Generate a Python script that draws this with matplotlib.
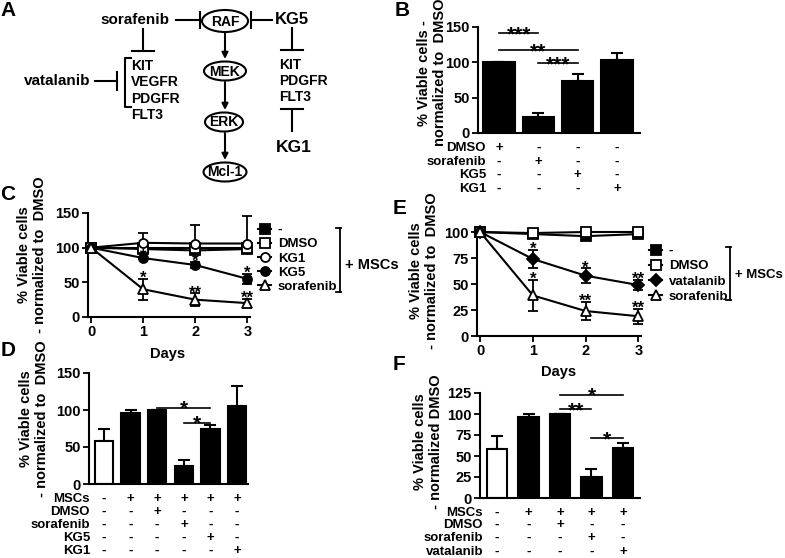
import numpy as np
import matplotlib
matplotlib.use("Agg")
import matplotlib.pyplot as plt
import matplotlib.transforms as mtransforms
from matplotlib.patches import Ellipse

plt.rcParams['font.family'] = ['Liberation Sans', 'DejaVu Sans']
plt.rcParams['font.weight'] = 'bold'
plt.rcParams['axes.labelweight'] = 'bold'
plt.rcParams['font.size'] = 9
plt.rcParams['axes.linewidth'] = 1.5
plt.rcParams['xtick.major.width'] = 1.3
plt.rcParams['ytick.major.width'] = 1.3
plt.rcParams['xtick.major.size'] = 4
plt.rcParams['ytick.major.size'] = 4

W, H = 785, 558

# ---------------- data ----------------
# B: viability without MSCs
b_values = [100, 23, 74, 104]
b_err = [0, 6, 9, 9]
b_rows = ['DMSO', 'sorafenib', 'KG5', 'KG1']
b_signs = [['+', '-', '-', '-'],
           ['-', '+', '-', '-'],
           ['-', '-', '+', '-'],
           ['-', '-', '-', '+']]
b_sig = [(0, 1, 141, '***'), (0, 2, 117, '**'), (1, 2, 99, '***')]

# C: time course with MSCs
days = [0, 1, 2, 3]
c_none = [100, 98, 96, 98]
c_none_err = [0, 1, 2, 1]
c_dmso = [100, 100, 100, 100]
c_kg1 = [100, 107, 106, 106]
c_kg1_err = [0, 14, 27, 40]
c_kg5 = [100, 85, 75, 55]
c_kg5_err = [0, 2, 5, 7]
c_kg5_stars = ['', '*', '*', '*']
c_sor = [100, 40, 25, 20]
c_sor_err = [0, 15, 9, 6]
c_sor_stars = ['', '*', '**', '**']

# D: day 3 bars
d_values = [58, 96, 100, 25, 75, 105]
d_err = [16, 4, 0, 8, 5, 28]
d_rows = ['MSCs', 'DMSO', 'sorafenib', 'KG5', 'KG1']
d_signs = [['-', '+', '+', '+', '+', '+'],
           ['-', '-', '+', '-', '-', '-'],
           ['-', '-', '-', '+', '-', '-'],
           ['-', '-', '-', '-', '+', '-'],
           ['-', '-', '-', '-', '-', '+']]
d_sig = [(2, 4, 103, '*'), (3, 4, 83, '*')]

# E: time course with vatalanib
e_none = [100, 98, 96, 98]
e_none_err = [0, 1, 2, 1]
e_dmso = [100, 99, 100, 100]
e_vat = [100, 74, 58, 49]
e_vat_err = [0, 9, 7, 5]
e_vat_stars = ['', '*', '*', '**']
e_sor = [100, 39, 24, 19]
e_sor_err = [0, 15, 9, 7]
e_sor_stars = ['', '*', '**', '**']

# F: day 3 bars with vatalanib
f_values = [58, 96, 100, 25, 59]
f_err = [16, 4, 0, 9, 7]
f_rows = ['MSCs', 'DMSO', 'sorafenib', 'vatalanib']
f_signs = [['-', '+', '+', '+', '+'],
           ['-', '-', '+', '-', '-'],
           ['-', '-', '-', '+', '-'],
           ['-', '-', '-', '-', '+']]
f_sig = [(2, 4, 123, '*'), (2, 3, 106, '**'), (3, 4, 71, '*')]

fig = plt.figure(figsize=(W / 100, H / 100), dpi=100)


def px_axes(x0, y0, x1, y1):
    return fig.add_axes([x0 / W, 1 - y1 / H, (x1 - x0) / W, (y1 - y0) / H])


def style(ax):
    for s in ['top', 'right']:
        ax.spines[s].set_visible(False)
    ax.tick_params(direction='out', labelsize=10.5, pad=2)


axB = px_axes(478, 27, 640, 133)
axC = px_axes(88, 213, 250, 317)
axD = px_axes(89, 373, 248, 484)
axE = px_axes(477, 232, 641, 336)
axF = px_axes(480, 393, 640, 498)

# overlay in pixel coordinates for the diagram and annotations
ov = fig.add_axes([0, 0, 1, 1])
ov.set_xlim(0, W)
ov.set_ylim(H, 0)
ov.axis('off')


def bar_panel(ax, values, err, width, white_first):
    x = np.arange(len(values))
    colors = ['black'] * len(values)
    if white_first:
        colors[0] = 'white'
    ax.errorbar(x, values, yerr=[np.zeros(len(values)), err], fmt='none',
                ecolor='black', elinewidth=1.5, capsize=4, capthick=1.5, zorder=1)
    ax.bar(x, values, width=width, color=colors, edgecolor='black',
           linewidth=1.5, zorder=2)
    ax.set_xticks([])
    style(ax)


def cond_table(ax, rows, signs, rows_y, label_x):
    tr = mtransforms.blended_transform_factory(ax.transData, ov.transData)
    for r, s, yp in zip(rows, signs, rows_y):
        ov.text(label_x, yp, r, ha='right', va='center', fontsize=9.5)
        for i, sg in enumerate(s):
            ax.text(i, yp, sg, transform=tr, ha='center', va='center',
                    fontsize=9.5, clip_on=False)


def sig(ax, i, j, y, txt):
    ax.plot([i, j], [y, y], color='black', lw=1.2, clip_on=False)
    ax.annotate(txt, ((i + j) / 2, y), xytext=(0, -5), textcoords='offset points',
                ha='center', va='baseline', fontsize=15, annotation_clip=False)


def series(ax, y, lo, up, marker, face, label, stars=None, ms=6.5):
    ax.errorbar(days, y, yerr=[lo, up], fmt='none', ecolor='black',
                elinewidth=1.3, capsize=3.5, capthick=1.3, zorder=2, clip_on=False)
    line, = ax.plot(days, y, color='black', lw=1.5, marker=marker, ms=ms,
                    mfc=face, mec='black', mew=1.3, label=label, zorder=3,
                    clip_on=False)
    if stars:
        for d, v, e, st in zip(days, y, up, stars):
            if st:
                ax.annotate(st, (d, v + e), xytext=(0, -3), textcoords='offset points',
                            ha='center', va='baseline', fontsize=12)
    return line


# ---------------- B ----------------
bar_panel(axB, b_values, b_err, 0.8, False)
axB.set_xlim(-0.53, 3.58)
axB.set_ylim(0, 150)
axB.set_yticks([0, 50, 100, 150])
for i, j, y, t in b_sig:
    sig(axB, i, j, y, t)
cond_table(axB, b_rows, b_signs, [148, 162, 175, 189], 486)
axB.set_ylabel('% Viable cells -\nnormalized to  DMSO', fontsize=10.5)
axB.yaxis.set_label_coords(-0.19, 0.57)

# ---------------- C ----------------
zeros = [0, 0, 0, 0]
hC = []
hC.append(series(axC, c_none, c_none_err, c_none_err, 's', 'black', '-'))
hC.append(series(axC, c_dmso, zeros, zeros, 's', 'white', 'DMSO'))
hC.append(series(axC, c_kg1, zeros, c_kg1_err, 'o', 'white', 'KG1'))
hC.append(series(axC, c_kg5, c_kg5_err, c_kg5_err, 'o', 'black', 'KG5', c_kg5_stars))
hC.append(series(axC, c_sor, c_sor_err, c_sor_err, '^', 'white', 'sorafenib', c_sor_stars))
axC.set_xlim(-0.06, 3.05)
axC.set_ylim(0, 150)
axC.set_yticks([0, 50, 100, 150])
axC.set_xticks(days)
style(axC)
axC.set_ylabel('% Viable cells\n- normalized to  DMSO', fontsize=10.5)
axC.yaxis.set_label_coords(-0.25, 0.6)
axC.set_xlabel('Days', fontsize=10.5)
axC.xaxis.set_label_coords(0.49, -0.29)
axC.legend(handles=hC, loc='upper left', bbox_to_anchor=(258 / W, 1 - 224 / H),
           bbox_transform=fig.transFigure, frameon=False, fontsize=9.5,
           handlelength=1.0, handletextpad=0.5, labelspacing=0.15, borderpad=0,
           borderaxespad=0)

# ---------------- D ----------------
bar_panel(axD, d_values, d_err, 0.68, True)
axD.set_xlim(-0.56, 5.41)
axD.set_ylim(0, 150)
axD.set_yticks([0, 50, 100, 150])
for i, j, y, t in d_sig:
    sig(axD, i, j, y, t)
cond_table(axD, d_rows, d_signs, [499, 512, 525, 538, 551], 90)
axD.set_ylabel('% Viable cells\n- normalized to  DMSO', fontsize=10.5)
axD.yaxis.set_label_coords(-0.25, 0.59)

# ---------------- E ----------------
hE = []
hE.append(series(axE, e_none, e_none_err, e_none_err, 's', 'black', '-'))
hE.append(series(axE, e_dmso, zeros, zeros, 's', 'white', 'DMSO'))
hE.append(series(axE, e_vat, e_vat_err, e_vat_err, 'D', 'black', 'vatalanib', e_vat_stars, ms=6))
hE.append(series(axE, e_sor, e_sor_err, e_sor_err, '^', 'white', 'sorafenib', e_sor_stars))
axE.set_xlim(-0.06, 3.05)
axE.set_ylim(0, 100)
axE.set_yticks([0, 25, 50, 75, 100])
axE.set_xticks(days)
style(axE)
axE.set_ylabel('% Viable cells\n- normalized to  DMSO', fontsize=10.5)
axE.yaxis.set_label_coords(-0.23, 0.63)
axE.set_xlabel('Days', fontsize=10.5)
axE.xaxis.set_label_coords(0.5, -0.28)
axE.legend(handles=hE, loc='upper left', bbox_to_anchor=(649 / W, 1 - 245 / H),
           bbox_transform=fig.transFigure, frameon=False, fontsize=9.5,
           handlelength=1.0, handletextpad=0.5, labelspacing=0.22, borderpad=0,
           borderaxespad=0)

# ---------------- F ----------------
bar_panel(axF, f_values, f_err, 0.65, True)
axF.set_xlim(-0.54, 4.54)
axF.set_ylim(0, 125)
axF.set_yticks([0, 25, 50, 75, 100, 125])
for i, j, y, t in f_sig:
    sig(axF, i, j, y, t)
cond_table(axF, f_rows, f_signs, [513, 525, 538, 552], 483)
axF.set_ylabel('% Viable cells\n- normalized DMSO', fontsize=10.5)
axF.yaxis.set_label_coords(-0.23, 0.54)

# ---------------- brackets for "+ MSCs" ----------------
def bracket(x, y0, y1, tx, ty, fs):
    ov.plot([x, x], [y0, y1], color='black', lw=1.3)
    ov.plot([x - 4, x + 1], [y0, y0], color='black', lw=1.3)
    ov.plot([x - 4, x + 1], [y1, y1], color='black', lw=1.3)
    ov.text(tx, ty, '+ MSCs', ha='left', va='center', fontsize=fs)


bracket(340, 228, 292, 345, 265, 10.5)
bracket(730, 247, 300, 735, 275, 9.5)

# ---------------- A: pathway diagram ----------------
lw = 1.5
for (cx, cy, w, h, t) in [(225, 21, 46, 22, 'RAF'), (225, 71, 42, 19, 'MEK'),
                          (224, 122, 38, 19, 'ERK'), (225, 172, 43, 19, 'Mcl-1')]:
    ov.add_patch(Ellipse((cx, cy), w, h, fill=False, lw=lw, ec='black'))
    ov.text(cx, cy + 0.5, t, ha='center', va='center', fontsize=10)

for y0, y1 in [(33, 59), (82, 110), (133, 160)]:
    ov.annotate('', xy=(225, y1), xytext=(225, y0),
                arrowprops=dict(arrowstyle='-|>', lw=lw, color='black',
                                mutation_scale=9, shrinkA=0, shrinkB=0))

def tbar_h(x0, x1, y, half=8):
    ov.plot([x0, x1], [y, y], color='black', lw=lw)
    ov.plot([x1, x1], [y - half, y + half], color='black', lw=lw)


def tbar_v(x, y0, y1, half=11):
    ov.plot([x, x], [y0, y1], color='black', lw=lw)
    ov.plot([x - half, x + half], [y1, y1], color='black', lw=lw)


ov.text(135, 20, 'sorafenib', ha='center', va='center', fontsize=11)
tbar_h(176, 200, 20)
tbar_h(272, 251, 20)
ov.text(275, 20, 'KG5', ha='left', va='center', fontsize=12)
tbar_v(143, 29, 51)
ov.plot([131, 125, 125, 131], [58, 58, 107, 107], color='black', lw=lw)
ov.text(57, 81, 'vatalanib', ha='center', va='center', fontsize=11)
tbar_h(95, 117, 81, half=9)
for t, y in zip(['KIT', 'VEGFR', 'PDGFR', 'FLT3'], [66, 82, 99, 115]):
    ov.text(131, y, t, ha='left', va='center', fontsize=10)
tbar_v(292, 28, 50)
for t, y in zip(['KIT', 'PDGFR', 'FLT3'], [65, 81, 97]):
    ov.text(279, y, t, ha='left', va='center', fontsize=10)
tbar_v(292, 131, 109)
ov.text(276, 147, 'KG1', ha='left', va='center', fontsize=12.5)

# panel letters
for t, x, y in [('A', 8, 11), ('B', 402, 10), ('C', 8, 194), ('D', 8, 350),
                ('E', 400, 208), ('F', 399, 365)]:
    ov.text(x, y, t, ha='center', va='center', fontsize=15)

fig.savefig('out.png', dpi=100)
